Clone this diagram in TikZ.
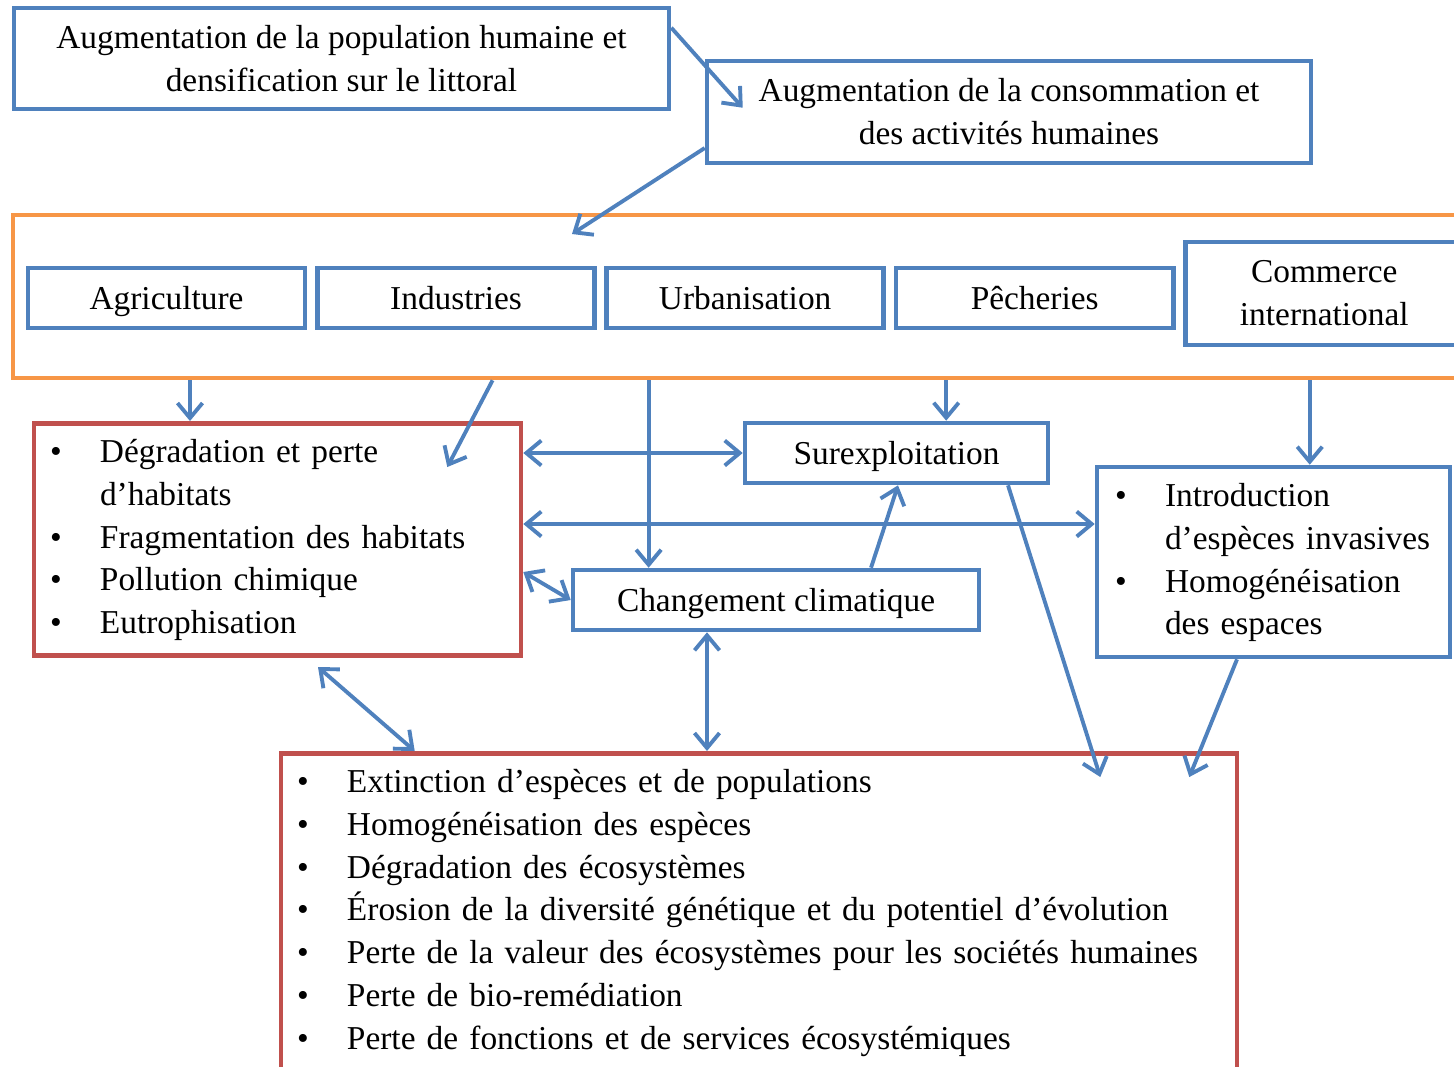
\documentclass[tikz,border=0pt]{standalone}
\usepackage{fontspec}
\setmainfont{Liberation Serif}
\usepackage{xcolor}
\usetikzlibrary{arrows.meta}
\usetikzlibrary{positioning}

\definecolor{bleu}{HTML}{4F81BD}
\definecolor{rouge}{HTML}{C0504D}
\definecolor{orangecadre}{HTML}{F79646}
\newcommand{\puce}{\textbullet}

\begin{document}
\begin{tikzpicture}[
  x=0.1mm, y=-0.1mm,
  box/.style={draw=bleu, line width=1.3pt, font=\fontsize{9.5}{12.2}\selectfont, align=center, inner sep=0pt},
  ligne/.style={box, minimum height=6mm, text height=0.9em, text depth=0.24em},
  redbox/.style={box, draw=rouge},
  liste/.style={align=left, inner xsep=1.6mm, inner ysep=0.9mm},
  fl/.style={-{Straight Barb[length=1.5mm,width=2.5mm]}, line width=1.1pt, bleu},
  dfl/.style={fl, {Straight Barb[length=1.5mm,width=2.5mm]}-{Straight Barb[length=1.5mm,width=2.5mm]}}
]
\useasboundingbox (0,0) rectangle (1454,1066);

\node[box, minimum width=65.5mm, minimum height=10.1mm] (pop) at (341.5,58.5) {Augmentation de la population humaine et\\densification sur le littoral};
\node[box, minimum width=60.4mm, minimum height=10.2mm] (conso) at (1009,112) {Augmentation de la consommation et\\des activités humaines};

\node[draw=orangecadre, line width=1.3pt, minimum width=146.7mm, minimum height=16.3mm] (cadre) at (746.5,296.5) {};
\node[ligne, minimum width=27.7mm] (agri) at (166.5,298) {Agriculture};
\node[ligne, minimum width=27.7mm, right=0.8mm of agri] (ind) {Industries};
\node[ligne, minimum width=27.7mm, right=0.75mm of ind] (urb) {Urbanisation};
\node[ligne, minimum width=27.7mm, right=0.8mm of urb] (pech) {Pêcheries};
\node[box, minimum width=27.8mm, minimum height=10.3mm, right=0.75mm of pech, yshift=0.45mm] (comm) {Commerce\\international};
\coordinate (secteurs) at (572,234);

\node[redbox, liste, text width=45.5mm, minimum height=23.1mm] (degr) at (277.5,539.5) {%
  \begin{tabular}{@{}p{5mm}@{}l@{}}
  \puce & Dégradation et perte\\
        & d’habitats\\
  \puce & Fragmentation des habitats\\
  \puce & Pollution chimique\\
  \puce & Eutrophisation
  \end{tabular}};
\node[ligne, minimum width=30.3mm] (surex) at (896.5,453) {Surexploitation};
\node[ligne, minimum width=40.6mm] (clim) at (776,600) {Changement climatique};
\node[box, liste, inner xsep=1.8mm, text width=31.7mm, minimum height=19mm] (intro) at (1273.5,562) {%
  \begin{tabular}{@{}p{5mm}@{}l@{}}
  \puce & Introduction\\
        & d’espèces invasives\\
  \puce & Homogénéisation\\
        & des espaces
  \end{tabular}};
\node[redbox, liste, text width=92.4mm, anchor=north] (perte) at (759,751) {%
  \begin{tabular}{@{}p{5mm}@{}l@{}}
  \puce & Extinction d’espèces et de populations\\
  \puce & Homogénéisation des espèces\\
  \puce & Dégradation des écosystèmes\\
  \puce & Érosion de la diversité génétique et du potentiel d’évolution\\
  \puce & Perte de la valeur des écosystèmes pour les sociétés humaines\\
  \puce & Perte de bio-remédiation\\
  \puce & Perte de fonctions et de services écosystémiques\\[4mm]
  \end{tabular}};

\draw[fl] ([yshift=-2.2mm]pop.north east) -- ([xshift=3.8mm,yshift=-4.9mm]conso.north west);
\draw[fl] ([yshift=-3.6mm]conso.west) -- (secteurs);

\draw[fl] ([xshift=2.35mm]agri.center |- cadre.south) -- ([xshift=2.35mm]agri.center |- degr.north);
\draw[fl] ([xshift=3.65mm]ind.center |- cadre.south) -- ([xshift=-7.6mm,yshift=-4.6mm]degr.north east);
\draw[fl] ([xshift=-9.65mm]urb.center |- cadre.south) -- ([xshift=-9.65mm]urb.center |- clim.north);
\draw[fl] ([xshift=-8.85mm]pech.center |- cadre.south) -- ([xshift=-8.85mm]pech.center |- surex.north);
\draw[fl] ([xshift=-1.45mm]comm.center |- cadre.south) -- ([xshift=-1.45mm]comm.center |- intro.north);

\draw[dfl] (surex.west -| degr.east) -- (surex.west);
\draw[dfl] ([yshift=3.8mm]intro.west -| degr.east) -- ([yshift=3.8mm]intro.west);
\draw[dfl] ([yshift=-3.25mm]degr.east) -- (clim.west);
\draw[fl] ([xshift=9.5mm]clim.north) -- ([xshift=0.15mm]surex.south);
\draw[fl] ([xshift=11.15mm]surex.south) -- ([xshift=-13.9mm,yshift=-2.6mm]perte.north east);
\draw[fl] ([xshift=-3.65mm]intro.south) -- ([xshift=-5mm,yshift=-2.6mm]perte.north east);
\draw[dfl] ([xshift=4.05mm,yshift=-0.9mm]degr.south) -- ([xshift=13.6mm]perte.north west);
\draw[dfl] ([xshift=-6.9mm]clim.south) -- ([xshift=-6.9mm]clim.south |- perte.north);
\end{tikzpicture}
\end{document}
